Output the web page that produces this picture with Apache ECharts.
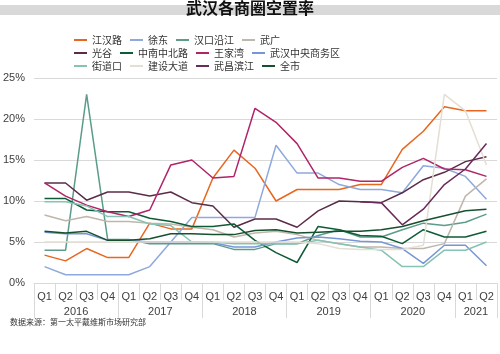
<!DOCTYPE html>
<html>
<head>
<meta charset="utf-8">
<script src="https://cdn.jsdelivr.net/npm/echarts@6/dist/echarts.min.js"></script>
<style>
  html, body { margin: 0; padding: 0; background: #fff; }
  #chart { width: 500px; height: 354px; }
</style>
</head>
<body>
<div id="chart"></div>
<script>
// quarters 2016Q1 .. 2021Q2
const quarters = ['Q1','Q2','Q3','Q4','Q1','Q2','Q3','Q4','Q1','Q2','Q3','Q4',
                  'Q1','Q2','Q3','Q4','Q1','Q2','Q3','Q4','Q1','Q2']
const years = ['2016', '2017', '2018', '2019', '2020', '2021']
const yearCenters = [2, 6, 10, 14, 18, 21]
const yearBounds = [0, 4, 8, 12, 16, 20, 22]

const jianghanlu = [3.4, 2.7, 4.2, 3.1, 3.1, 7.3, 6.6, 6.6, 12.8, 16.2, 14.0, 10.0, 11.4, 11.4, 11.4, 12.0, 12.0, 16.3, 18.5, 21.5, 21.0, 21.0]
const xudong = [2.0, 1.0, 1.0, 1.0, 1.0, 2.0, 5.0, 8.0, 8.0, 8.0, 8.0, 16.8, 13.4, 13.4, 12.0, 11.4, 11.4, 11.0, 14.3, 14.0, 13.0, 10.2]
const hankouyanjiang = [4.0, 4.0, 23.0, 5.3, 5.3, 4.8, 4.8, 4.8, 4.8, 4.1, 4.1, 4.8, 4.8, 5.8, 6.5, 5.6, 5.6, 6.5, 7.3, 7.0, 7.4, 8.4]
const wuguang = [8.3, 7.6, 8.1, 7.5, 7.5, 7.3, 7.2, 6.8, 6.5, 5.6, 6.1, 6.3, 5.9, 5.2, 4.8, 4.4, 4.4, 4.2, 4.2, 4.8, 10.6, 12.7]
const guanggu = [12.2, 12.2, 10.1, 11.1, 11.1, 10.6, 11.1, 9.8, 9.4, 6.8, 7.8, 7.8, 6.8, 8.8, 10.0, 9.9, 9.8, 11.0, 12.6, 13.5, 14.8, 15.4]
const zhongnan = [10.3, 10.3, 8.9, 8.7, 8.7, 7.9, 7.5, 6.9, 6.9, 7.2, 5.2, 3.7, 2.5, 6.9, 6.5, 5.8, 5.7, 4.8, 6.5, 5.6, 5.6, 6.3]
const wangjiawan = [12.2, 10.6, 9.5, 8.7, 8.1, 8.9, 14.4, 15.0, 12.8, 13.0, 21.3, 19.6, 17.0, 12.8, 12.8, 12.4, 12.4, 14.1, 15.2, 13.9, 13.8, 13.0]
const cbd = [6.2, 6.0, 6.0, 5.2, 5.2, 5.0, 5.0, 5.0, 4.9, 4.4, 4.4, 5.0, 5.5, 5.6, 5.4, 5.1, 5.0, 4.2, 2.4, 4.6, 4.6, 2.1]
const jiedaokou = [9.9, 9.9, 9.4, 8.1, 8.1, 7.2, 7.0, 5.0, 5.0, 4.8, 4.8, 4.8, 4.8, 5.2, 4.8, 4.4, 4.0, 2.0, 2.0, 4.0, 4.0, 5.0]
const jianshedadao = [5.0, 5.0, 5.0, 5.0, 5.0, 5.0, 5.0, 5.0, 5.0, 5.0, 5.0, 5.0, 5.0, 4.8, 4.2, 4.1, 4.1, 4.1, 4.6, 23.0, 21.0, 14.4]
const wuchangbinjiang = [null, null, null, null, null, null, null, null, null, null, null, null, null, null, null, 9.9, 9.8, 7.1, 9.0, 12.0, 13.9, 17.0]
const quanshi = [6.3, 6.1, 6.3, 5.2, 5.2, 5.4, 6.0, 6.0, 5.9, 5.9, 6.4, 6.5, 6.1, 6.2, 6.3, 6.3, 6.5, 6.9, 7.6, 8.2, 8.8, 9.0]

const seriesDefs = [
  { name: '江汉路', data: jianghanlu, color: '#E8661F' },
  { name: '徐东', data: xudong, color: '#8EA9DB' },
  { name: '汉口沿江', data: hankouyanjiang, color: '#5B9C8B' },
  { name: '武广', data: wuguang, color: '#BFB6AC' },
  { name: '光谷', data: guanggu, color: '#5A2C48' },
  { name: '中南中北路', data: zhongnan, color: '#0E5C36' },
  { name: '王家湾', data: wangjiawan, color: '#B02468' },
  { name: '武汉中央商务区', data: cbd, color: '#7896D6' },
  { name: '街道口', data: jiedaokou, color: '#86C3B4' },
  { name: '建设大道', data: jianshedadao, color: '#E4DED4' },
  { name: '武昌滨江', data: wuchangbinjiang, color: '#6A2A5A' },
  { name: '全市', data: quanshi, color: '#16502F' }
]

const font = "'Liberation Sans', Arial, sans-serif"
const cjk = "'Noto Sans CJK SC', sans-serif"

const legendRow = (names, top) => ({
  data: names,
  top,
  left: 74,
  padding: 0,
  icon: 'rect',
  itemWidth: 13,
  itemHeight: 2,
  itemGap: 8,
  selectedMode: false,
  textStyle: { fontSize: 10, color: '#333', fontFamily: cjk, width: 80 }
})

const chart = echarts.init(document.getElementById('chart'))
chart.setOption({
  animation: false,
  graphic: [{
    type: 'rect',
    z: 0,
    shape: { x: 0, y: 5, width: 500, height: 10 },
    style: { fill: '#D9D9D9' }
  }],
  title: [{
    text: '武汉各商圈空置率',
    left: 'center',
    top: 0,
    padding: 0,
    z: 10,
    textStyle: { fontSize: 16, fontWeight: 'bold', color: '#111', fontFamily: cjk }
  }, {
    text: '数据来源：第一太平戴维斯市场研究部',
    left: 10,
    top: 318,
    padding: 0,
    textStyle: { fontSize: 8, fontWeight: 'normal', color: '#333', fontFamily: cjk }
  }],
  legend: [
    legendRow(seriesDefs.slice(0, 4).map(s => s.name), 35),
    legendRow(seriesDefs.slice(4, 8).map(s => s.name), 48),
    legendRow(seriesDefs.slice(8, 12).map(s => s.name), 61)
  ],
  grid: { left: 32, right: 3, top: 78, bottom: 71 },
  xAxis: [{
    type: 'category',
    data: quarters,
    boundaryGap: true,
    axisLine: { show: true, lineStyle: { color: '#D9D9D9' } },
    axisTick: { show: true, interval: 0, length: 17, lineStyle: { color: '#D9D9D9' } },
    axisLabel: { interval: 0, margin: 8, fontSize: 11, color: '#404040', fontFamily: font }
  }, {
    type: 'value',
    position: 'bottom',
    min: 0,
    max: 22,
    axisLine: { show: false },
    splitLine: { show: false },
    axisTick: { show: true, length: 35, customValues: yearBounds, lineStyle: { color: '#D9D9D9' } },
    axisLabel: {
      margin: 23,
      fontSize: 11,
      color: '#404040',
      fontFamily: font,
      customValues: yearCenters,
      formatter: v => years[yearCenters.indexOf(v)]
    }
  }],
  yAxis: {
    type: 'value',
    min: 0,
    max: 25,
    interval: 5,
    axisLine: { show: false },
    axisTick: { show: false },
    axisLabel: { formatter: '{value}%', fontSize: 11, color: '#404040', fontFamily: font, margin: 9 },
    splitLine: { lineStyle: { color: '#D9D9D9' } }
  },
  series: seriesDefs.map(s => ({
    name: s.name,
    type: 'line',
    data: s.data,
    symbol: 'none',
    lineStyle: { width: 1.5, color: s.color },
    itemStyle: { color: s.color }
  }))
})
</script>
</body>
</html>
